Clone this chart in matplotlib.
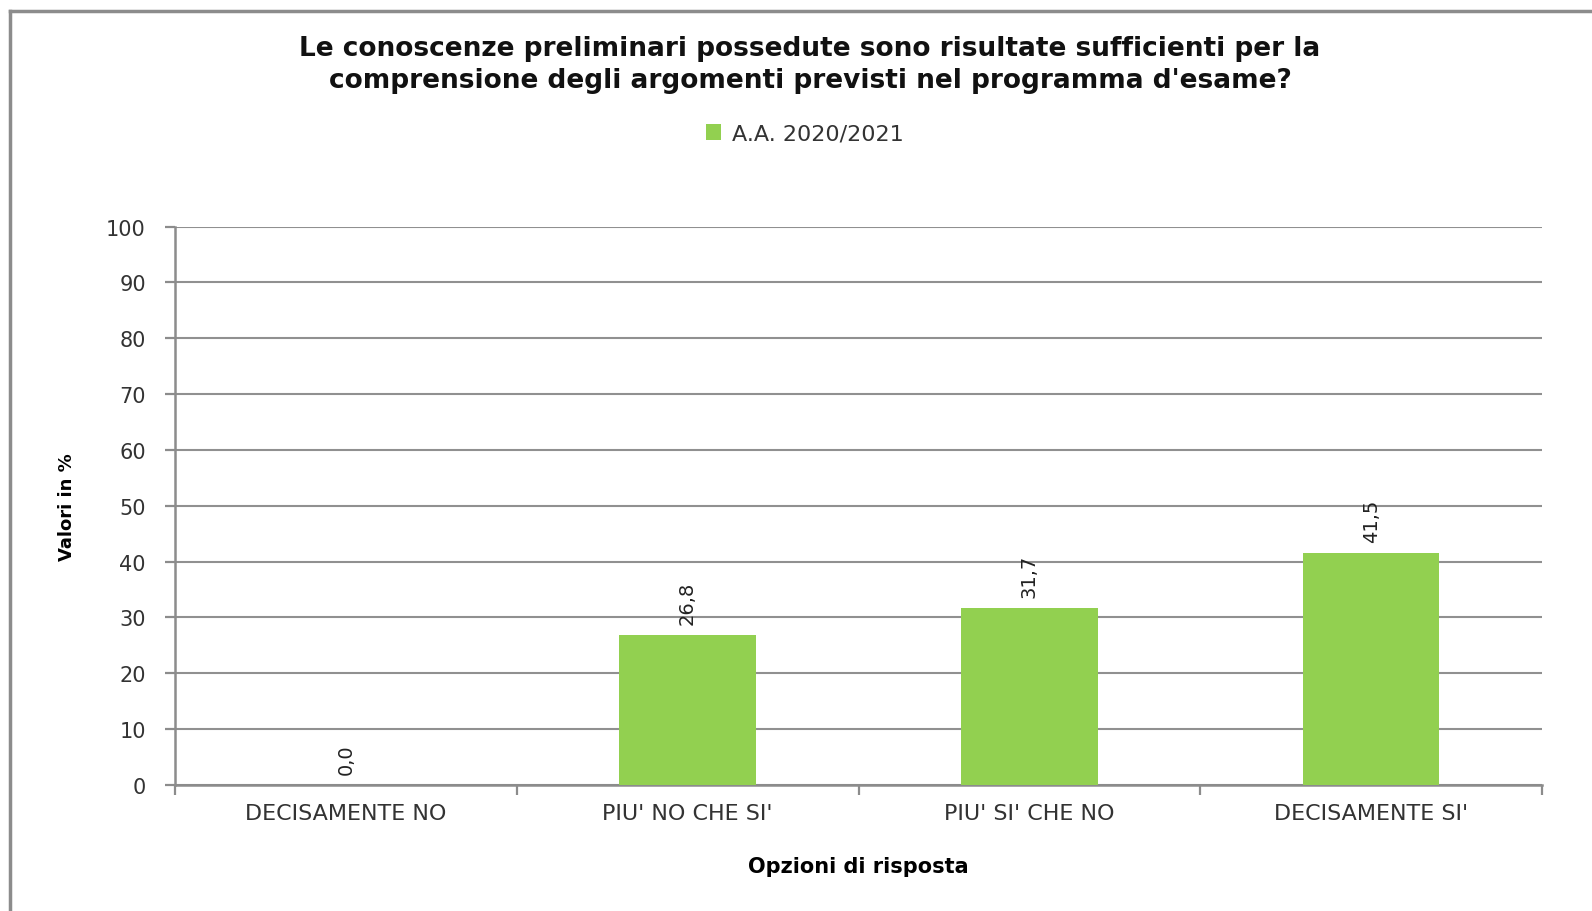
import matplotlib
matplotlib.use("Agg")
import matplotlib.pyplot as plt
from matplotlib.lines import Line2D
import numpy as np

categories = ["DECISAMENTE NO", "PIU' NO CHE SI'", "PIU' SI' CHE NO", "DECISAMENTE SI'"]
values = [0.0, 26.8, 31.7, 41.5]
series_name = "A.A. 2020/2021"
title = "Le conoscenze preliminari possedute sono risultate sufficienti per la\ncomprensione degli argomenti previsti nel programma d'esame?"
yticks = [0, 10, 20, 30, 40, 50, 60, 70, 80, 90, 100]

W, H = 1592, 912
fig = plt.figure(figsize=(W / 100, H / 100), dpi=100)
fig.patch.set_facecolor("white")

ax = fig.add_axes([175 / W, 1 - 786 / H, (1542 - 175) / W, (786 - 227.5) / H])
x = np.arange(len(categories))
green = "#92D050"
bars = ax.bar(x, values, width=0.40, color=green, label=series_name, zorder=3)

ax.set_xlim(-0.5, len(categories) - 0.5)
ax.set_ylim(0, 100)
ax.set_yticks(yticks)
ax.set_yticklabels([str(v) for v in yticks], fontsize=15, color="#333333")
ax.yaxis.grid(True, color="#909090", linewidth=1.5, zorder=0)
ax.set_axisbelow(True)

ax.set_xticks(x)
ax.set_xticklabels(categories, fontsize=16, color="#333333")
ax.tick_params(axis="x", length=0, pad=13)
ax.set_xticks(np.arange(-0.5, len(categories)), minor=True)
ax.tick_params(axis="x", which="minor", length=7, width=1.6, color="#8c8c8c")
ax.tick_params(axis="y", length=7, width=1.6, color="#8c8c8c", pad=14)

for s in ["top", "right"]:
    ax.spines[s].set_visible(False)
for s in ["left", "bottom"]:
    ax.spines[s].set_color("#8c8c8c")
    ax.spines[s].set_linewidth(1.8)

for xi, v in zip(x, values):
    ax.annotate(f"{v:.1f}".replace(".", ","), (xi, v), xytext=(0, 8),
                textcoords="offset points", rotation=90, ha="center", va="bottom",
                fontsize=14, family=["Liberation Sans Narrow", "DejaVu Sans"],
                color="#222222")

ax.set_xlabel("Opzioni di risposta", fontsize=15, fontweight="bold", labelpad=24)
ax.set_ylabel("Valori in %", fontsize=13, fontweight="bold",
              family=["Liberation Sans Narrow", "DejaVu Sans"], labelpad=22)

fig.text(0.5 * (266 + 1354) / W, 1 - 65 / H, title, ha="center", va="center",
         fontsize=19, fontweight="bold", linespacing=1.25, color="#111111")

leg = fig.legend(handles=[bars], labels=[series_name], loc="center",
                 bbox_to_anchor=(805 / W, 1 - 135 / H), frameon=False,
                 fontsize=16, handlelength=0.7, handleheight=0.7, handletextpad=0.5)
for t in leg.get_texts():
    t.set_color("#333333")

fig.add_artist(Line2D([10 / W, 10 / W], [0, 1 - 12 / H], transform=fig.transFigure,
                      color="#8c8c8c", linewidth=2.5))
fig.add_artist(Line2D([10 / W, 1], [1 - 12 / H, 1 - 12 / H], transform=fig.transFigure,
                      color="#8c8c8c", linewidth=2.5))

fig.savefig("out.png", dpi=100)
